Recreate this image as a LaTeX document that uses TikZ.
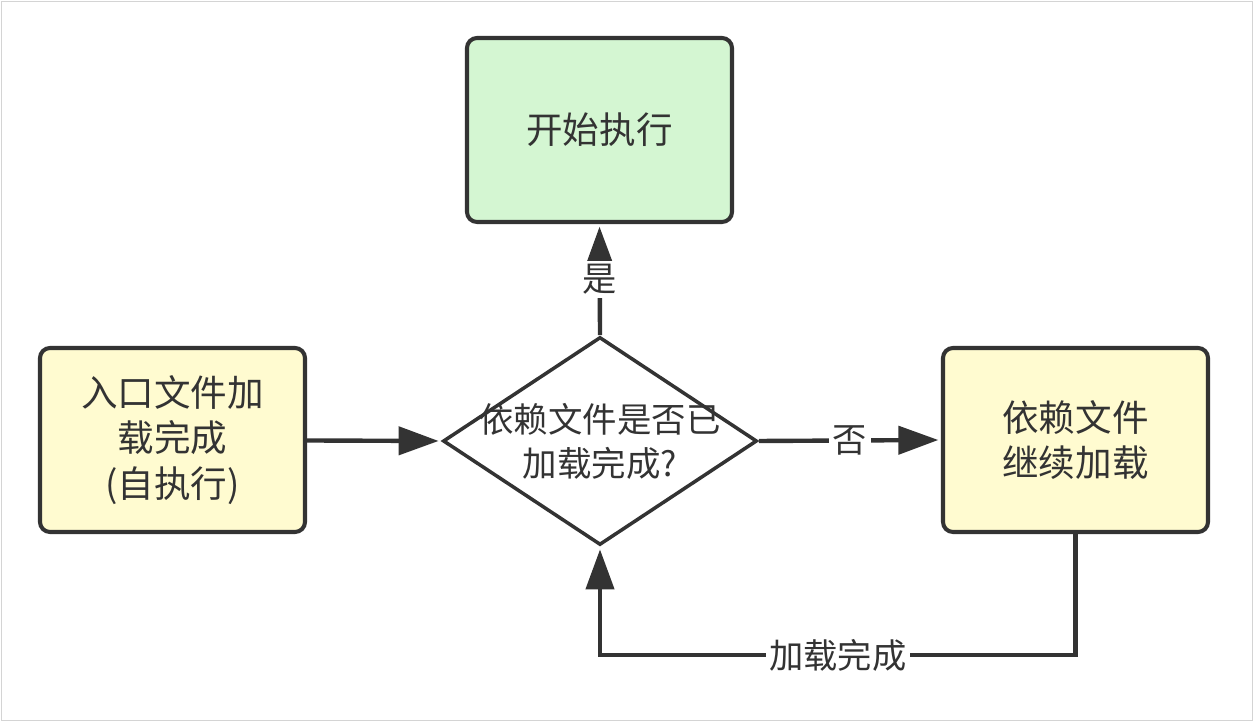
\documentclass[tikz,border=0pt]{standalone}
\usepackage{fontspec}
\setmainfont{Noto Sans CJK SC}
\usetikzlibrary{shapes.geometric,arrows.meta}
\definecolor{linegray}{HTML}{333333}
\definecolor{textgray}{HTML}{333333}
\definecolor{framegray}{HTML}{D4D4D4}
\definecolor{startgreen}{HTML}{D4F6D2}
\definecolor{stepyellow}{HTML}{FFFBD0}

\begin{document}
\begin{tikzpicture}[
   box/.style={rectangle,draw=linegray,line width=2.3pt,rounded corners=0.2cm,
    minimum width=5.3cm,minimum height=3.68cm,align=center,text=textgray,
    font=\fontsize{20.8}{26}\selectfont},
   decision/.style={diamond,draw=linegray,line width=2pt,
    minimum width=6.28cm,minimum height=4.16cm,inner sep=0pt},
   flow/.style={draw=linegray,line width=2.5pt,shorten >=1.5pt,
    -{Triangle[length=0.8cm,width=0.56cm]}},
   tag/.style={fill=white,text=textgray,font=\fontsize{19.5}{24}\selectfont,inner sep=2pt}
    ]
  \useasboundingbox (0,0) rectangle (25.08,14.44);
  \draw[framegray,line width=1pt] (0.03,0.03) rectangle (25.05,14.41);

  % -- nodes
  \node[box,fill=startgreen] at (11.99,11.84) (start) {开始执行};
  \node[box,fill=stepyellow] at (3.45,5.64) (entry) {入口文件加\\载完成\\(自执行)};
  \node[decision] at (12.0,5.62) (chk) {};
  \node[align=center,text=textgray,font=\fontsize{19.6}{25}\selectfont] at (chk) (chktxt)
    {依赖文件是否已\\加载完成?};
  \node[box,fill=stepyellow] at (21.51,5.64) (cont) {依赖文件\\继续加载};
  \coordinate (turn) at (21.51,1.34);

  % -- connectors
  \draw[flow] (entry) -- (chk.west);
  \draw[flow] (chk.north) -- node[tag] {是} (start.south);
  \draw[flow] (chk.east) -- node[tag] {否} (cont.west);
  \draw[flow] (cont.south) -- (turn) -| node[tag,pos=0.25] {加载完成} (chk.south);

\end{tikzpicture}
\end{document}
